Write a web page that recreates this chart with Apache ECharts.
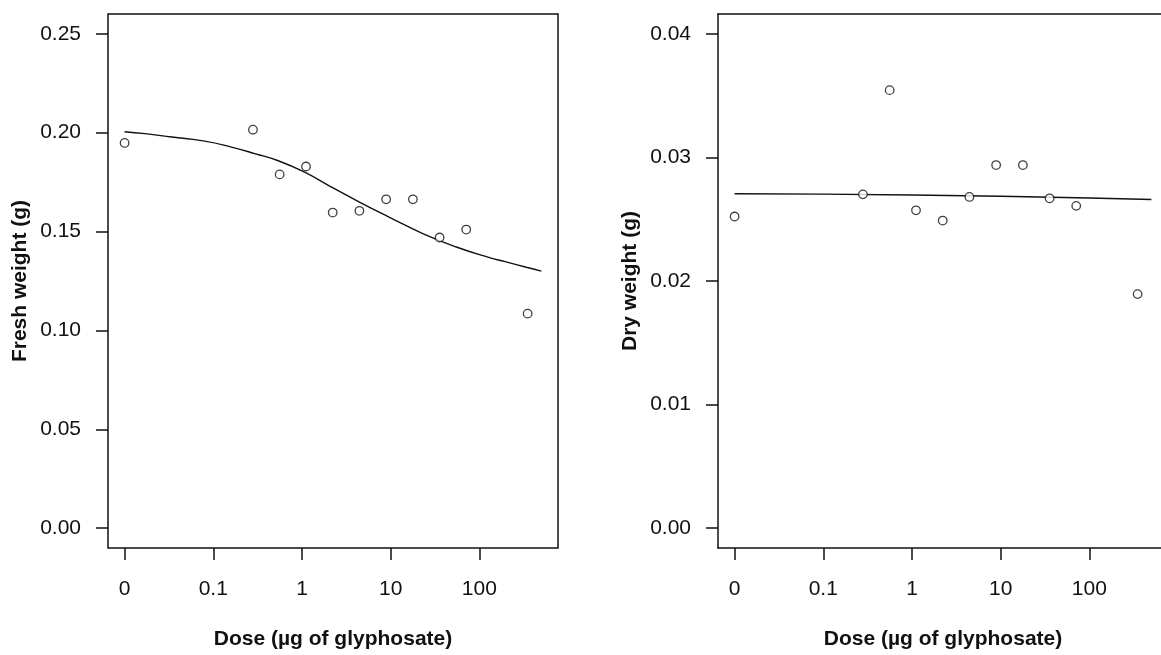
<!DOCTYPE html>
<html>
<head>
<meta charset="utf-8">
<title>Glyphosate dose response</title>
<script src="https://cdn.jsdelivr.net/npm/echarts@6/dist/echarts.min.js"></script>
<style>
  html, body { margin: 0; padding: 0; background: #fff; overflow: hidden; }
  /* the right panel runs past the picture's edge, as in the source figure */
  #chart { width: 1180px; height: 655px; }
</style>
</head>
<body>
<div id="chart"></div>
<script>
// doses in µg; dose 0 sits at the broken-axis spot like in drc plots
var doses = [0, 0.28, 0.56, 1.11, 2.22, 4.44, 8.89, 17.8, 35.6, 71.1, 350]
var freshWeight = [0.1948, 0.2015, 0.1789, 0.1829, 0.1596, 0.1605, 0.1663, 0.1663, 0.147, 0.151, 0.1085]
var dryWeight = [0.02522, 0.02701, 0.03544, 0.02572, 0.02489, 0.0268, 0.02938, 0.02938, 0.02669, 0.02608, 0.01894]

// fitted curves
var freshFitDose = [0, 0.017, 0.034, 0.08, 0.16, 0.3, 0.54, 1.07, 2.05, 4.5, 9.7, 23, 55, 130, 195, 347, 500]
var freshFit = [0.2005, 0.1995, 0.1978, 0.1957, 0.1927, 0.1893, 0.1858, 0.18, 0.173, 0.1648, 0.1572, 0.149, 0.1422, 0.1368, 0.1348, 0.1318, 0.13]
var dryFitDose = [0, 0.1, 1, 10, 100, 500]
var dryFit = [0.02706, 0.02703, 0.02696, 0.02686, 0.02672, 0.02659]

var xTicks = [0, 0.1, 1, 10, 100]
var xTickLabels = ['0', '0.1', '1', '10', '100']
var freshTicks = [0, 0.05, 0.10, 0.15, 0.20, 0.25]
var dryTicks = [0, 0.01, 0.02, 0.03, 0.04]

var ZERO_AT = 0.01
var X_MIN = 0.0065
var X_MAX = 770
var FONT = 'Liberation Sans, Arial, sans-serif'
var INK = '#111'

function pos(d) {
  return d === 0 ? ZERO_AT : d
}

function pairs(xs, ys) {
  return xs.map(function (x, i) { return [pos(x), ys[i]] })
}

function xAxis(gridIndex, showLine) {
  return {
    type: 'log',
    logBase: 10,
    gridIndex: gridIndex,
    min: X_MIN,
    max: X_MAX,
    name: 'Dose (µg of glyphosate)',
    nameLocation: 'middle',
    nameGap: 81,
    nameTextStyle: { fontFamily: FONT, fontSize: 21, fontWeight: 'bold', color: INK },
    axisLine: { show: showLine, onZero: false, lineStyle: { color: INK, width: 1.5 } },
    splitLine: { show: false },
    axisTick: {
      show: true, inside: false, length: 12,
      lineStyle: { color: INK, width: 1.5 },
      customValues: xTicks.map(pos)
    },
    axisLabel: {
      margin: 31,
      fontFamily: FONT, fontSize: 21, color: INK,
      customValues: xTicks.map(pos),
      formatter: function (v) {
        var best = 0
        xTicks.forEach(function (t, i) {
          if (Math.abs(Math.log10(pos(t)) - Math.log10(v)) < Math.abs(Math.log10(pos(xTicks[best])) - Math.log10(v))) best = i
        })
        return xTickLabels[best]
      }
    }
  }
}

// bare line along the top of a panel (box edge)
function topEdge(gridIndex) {
  return {
    type: 'log',
    gridIndex: gridIndex,
    position: 'top',
    min: X_MIN,
    max: X_MAX,
    axisLine: { show: true, onZero: false, lineStyle: { color: INK, width: 1.5 } },
    axisTick: { show: false },
    axisLabel: { show: false },
    splitLine: { show: false }
  }
}

function yAxis(gridIndex, min, max, ticks, name, showLine) {
  return {
    type: 'value',
    gridIndex: gridIndex,
    min: min,
    max: max,
    name: name,
    nameLocation: 'middle',
    nameGap: 77,
    nameTextStyle: { fontFamily: FONT, fontSize: 21, fontWeight: 'bold', color: INK },
    axisLine: { show: showLine, onZero: false, lineStyle: { color: INK, width: 1.5 } },
    splitLine: { show: false },
    axisTick: {
      show: true, inside: false, length: 12,
      lineStyle: { color: INK, width: 1.5 },
      customValues: ticks
    },
    axisLabel: {
      margin: 27,
      fontFamily: FONT, fontSize: 21, color: INK,
      customValues: ticks,
      formatter: function (v) { return v.toFixed(2) }
    }
  }
}

function points(idx, ys) {
  return {
    type: 'scatter',
    xAxisIndex: idx,
    yAxisIndex: idx,
    symbol: 'circle',
    symbolSize: 8.5,
    itemStyle: { color: '#fff', borderColor: INK, borderWidth: 1.3 },
    data: pairs(doses, ys),
    z: 3
  }
}

function curve(idx, xs, ys, smooth) {
  return {
    type: 'line',
    xAxisIndex: idx,
    yAxisIndex: idx,
    showSymbol: false,
    smooth: smooth,
    lineStyle: { color: INK, width: 1.4 },
    data: pairs(xs, ys),
    z: 2
  }
}

var chart = echarts.init(document.getElementById('chart'))
var option = {
  animation: false,
  backgroundColor: '#fff',
  grid: [
    { left: 108, top: 14, width: 450, height: 537, show: true, borderColor: INK, borderWidth: 1.5 },
    { left: 718, top: 14, width: 450, height: 537, show: false }
  ],
  xAxis: [xAxis(0, false), xAxis(1, true), topEdge(1)],
  yAxis: [
    yAxis(0, -0.01, 0.26, freshTicks, 'Fresh weight (g)', false),
    yAxis(1, -0.0016, 0.0416, dryTicks, 'Dry weight (g)', true)
  ],
  series: [
    curve(0, freshFitDose, freshFit, true),
    points(0, freshWeight),
    curve(1, dryFitDose, dryFit, false),
    points(1, dryWeight)
  ]
}
chart.setOption(option)
</script>
</body>
</html>
